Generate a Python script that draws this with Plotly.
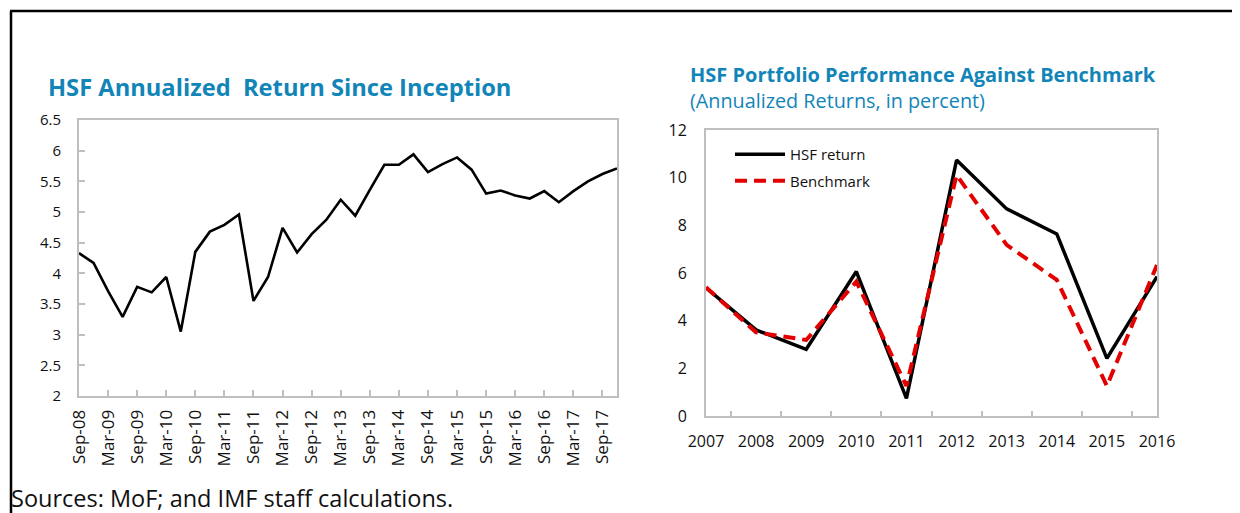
import plotly.graph_objects as go

# ---------------- Data ----------------
# Left chart: HSF annualized return since inception (quarterly, Sep-08 .. Dec-17)
quarters = [
    "Sep-08", "Dec-08", "Mar-09", "Jun-09", "Sep-09", "Dec-09", "Mar-10", "Jun-10",
    "Sep-10", "Dec-10", "Mar-11", "Jun-11", "Sep-11", "Dec-11", "Mar-12", "Jun-12",
    "Sep-12", "Dec-12", "Mar-13", "Jun-13", "Sep-13", "Dec-13", "Mar-14", "Jun-14",
    "Sep-14", "Dec-14", "Mar-15", "Jun-15", "Sep-15", "Dec-15", "Mar-16", "Jun-16",
    "Sep-16", "Dec-16", "Mar-17", "Jun-17", "Sep-17", "Dec-17",
]
hsf_since_inception = [
    4.33, 4.17, 3.71, 3.29, 3.78, 3.69, 3.94, 3.05,
    4.35, 4.68, 4.79, 4.96, 3.55, 3.94, 4.74, 4.34,
    4.64, 4.87, 5.20, 4.94, 5.36, 5.77, 5.77, 5.94,
    5.65, 5.78, 5.89, 5.69, 5.30, 5.35, 5.27, 5.22,
    5.34, 5.16, 5.34, 5.50, 5.62, 5.71,
]
left_tick_labels = quarters[::2]

# Right chart: HSF portfolio vs benchmark (annual)
years = ["2007", "2008", "2009", "2010", "2011", "2012", "2013", "2014", "2015", "2016"]
hsf_return = [5.38, 3.61, 2.80, 6.06, 0.74, 10.74, 8.69, 7.64, 2.42, 5.85]
benchmark = [5.40, 3.51, 3.19, 5.64, 1.26, 10.11, 7.18, 5.71, 1.26, 6.34]

# ---------------- Layout helpers ----------------
# the page body has an 8px margin, so the figure starts at (8, 8) on screen
OFF = 8
W, H = 1240 - OFF, 513 - OFF
def px(x):
    return (x - OFF) / W
def py(y):
    return 1 - (y - OFF) / H

TITLE_COLOR = "#1285B8"
AXIS_COLOR = "#BFBFBF"
FONT = "Open Sans"
TXT = "#111111"

fig = go.Figure()

fig.add_trace(go.Scatter(
    x=list(range(len(quarters))), y=hsf_since_inception,
    mode="lines", line=dict(color="black", width=2.6),
    xaxis="x", yaxis="y", showlegend=False,
    text=quarters, hovertemplate="%{text}: %{y}<extra></extra>",
))

fig.add_trace(go.Scatter(
    x=years, y=hsf_return, name="HSF return", legendgroup="a",
    mode="lines", line=dict(color="black", width=3.5),
    xaxis="x2", yaxis="y2",
))
fig.add_trace(go.Scatter(
    x=years, y=benchmark, name="Benchmark", legendgroup="b",
    mode="lines", line=dict(color="#E30000", width=4, dash="12px,7px"),
    xaxis="x2", yaxis="y2",
))

fig.update_layout(
    width=W, height=H,
    margin=dict(l=0, r=0, t=0, b=0, pad=0, autoexpand=False),
    paper_bgcolor="white", plot_bgcolor="white",
    font=dict(family=FONT, color=TXT),
    xaxis=dict(
        domain=[px(79), px(617)], anchor="y",
        range=[0, len(quarters) - 1],
        tickvals=list(range(0, len(quarters), 2)), ticktext=left_tick_labels,
        tickangle=-90, ticks="inside", ticklen=6, tickcolor=AXIS_COLOR, tickwidth=1.5,
        showline=True, linecolor=AXIS_COLOR, linewidth=2, mirror=True,
        showgrid=False, zeroline=False, automargin=False, ticklabelstandoff=5,
        tickfont=dict(family=FONT, size=17, color=TXT),
    ),
    yaxis=dict(
        domain=[py(396), py(120)], anchor="x",
        range=[2, 6.5], dtick=0.5, tick0=2,
        ticks="inside", ticklen=6, tickcolor=AXIS_COLOR, tickwidth=1.5,
        showline=True, linecolor=AXIS_COLOR, linewidth=2, mirror=True,
        showgrid=False, zeroline=False, automargin=False, ticklabelstandoff=13,
        tickfont=dict(family=FONT, size=15, color=TXT),
    ),
    xaxis2=dict(
        domain=[px(706), px(1157)], anchor="y2",
        type="category", tickson="boundaries",
        ticks="inside", ticklen=5, tickcolor=AXIS_COLOR, tickwidth=1.5,
        showline=True, linecolor=AXIS_COLOR, linewidth=2, mirror=True,
        showgrid=False, zeroline=False, automargin=False, ticklabelstandoff=10,
        tickfont=dict(family=FONT, size=16, color=TXT),
    ),
    yaxis2=dict(
        domain=[py(416), py(130)], anchor="x2",
        range=[0, 12], dtick=2,
        ticks="", showline=True, linecolor=AXIS_COLOR, linewidth=2, mirror=True,
        showgrid=False, zeroline=False, automargin=False, ticklabelstandoff=14,
        tickfont=dict(family=FONT, size=16, color=TXT),
    ),
    legend=dict(
        x=px(730), y=py(138), xanchor="left", yanchor="top",
        bgcolor="rgba(0,0,0,0)", borderwidth=0,
        font=dict(family=FONT, size=15, color=TXT),
        itemwidth=50, tracegroupgap=4, traceorder="grouped",
    ),
    annotations=[
        dict(text="<b>HSF Annualized  Return Since Inception</b>",
             x=px(46), y=py(87), xref="paper", yref="paper",
             xanchor="left", yanchor="middle", showarrow=False,
             font=dict(family=FONT, size=23.7, color=TITLE_COLOR)),
        dict(text="<b>HSF Portfolio Performance Against Benchmark</b>",
             x=px(688), y=py(74), xref="paper", yref="paper",
             xanchor="left", yanchor="middle", showarrow=False,
             font=dict(family=FONT, size=20, color=TITLE_COLOR)),
        dict(text="(Annualized Returns, in percent)",
             x=px(688), y=py(101), xref="paper", yref="paper",
             xanchor="left", yanchor="middle", showarrow=False,
             font=dict(family=FONT, size=19.8, color=TITLE_COLOR)),
        dict(text="Sources: MoF; and IMF staff calculations.",
             x=px(9), y=py(498), xref="paper", yref="paper",
             xanchor="left", yanchor="middle", showarrow=False,
             font=dict(family=FONT, size=23.5, color=TXT)),
    ],
    shapes=[
        dict(type="line", xref="paper", yref="paper",
             x0=px(10), x1=px(1240), y0=py(11), y1=py(11),
             line=dict(color="black", width=2.5)),
        dict(type="line", xref="paper", yref="paper",
             x0=px(11), x1=px(11), y0=py(11), y1=0,
             line=dict(color="black", width=2.5)),
        dict(type="line", xref="paper", yref="paper",
             x0=px(1239), x1=px(1239), y0=py(11), y1=py(440),
             line=dict(color="black", width=2.5)),
    ],
)

fig.write_html("out.html")
